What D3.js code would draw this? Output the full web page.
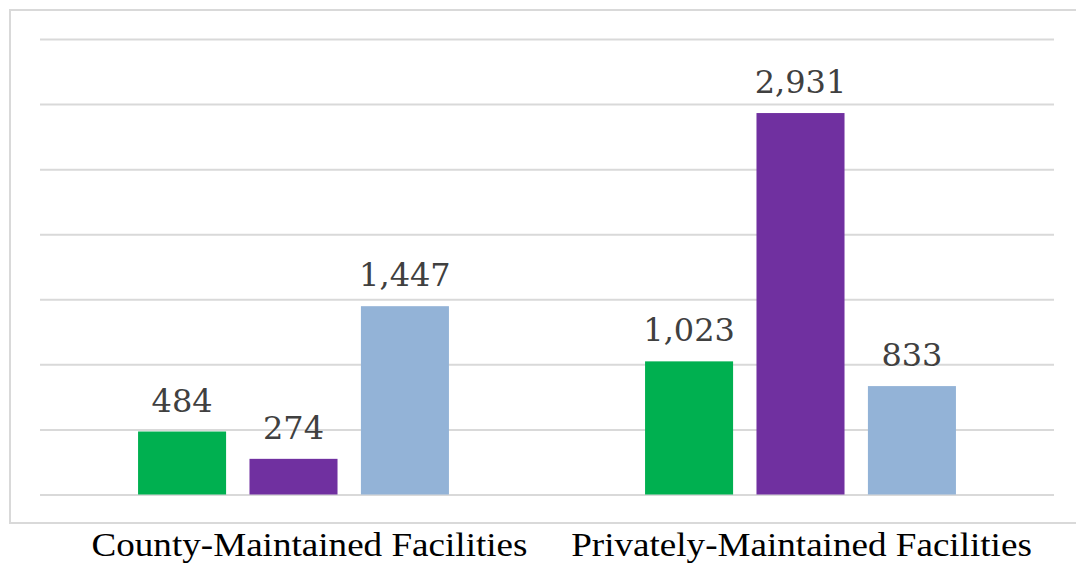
<!DOCTYPE html>
<html>
<head>
<meta charset="utf-8">
<script src="https://cdn.jsdelivr.net/npm/d3@7"></script>
<style>
  html, body { margin: 0; padding: 0; background: #ffffff; }
  svg { display: block; }
</style>
</head>
<body>
<svg id="chart" width="1076" height="567"></svg>
<script>
// Facility counts per category, three series each
const categories = ["County-Maintained Facilities", "Privately-Maintained Facilities"];
const seriesKeys = ["s1", "s2", "s3"];
const seriesColors = ["#00B050", "#7030A0", "#93B3D7"];
const valuesS1 = [484, 1023];
const valuesS2 = [274, 2931];
const valuesS3 = [1447, 833];
const yTicks = [0, 500, 1000, 1500, 2000, 2500, 3000, 3500];

const seriesValues = [valuesS1, valuesS2, valuesS3];
const rows = categories.map((c, i) => ({
  category: c,
  bars: seriesKeys.map((k, j) => ({ key: k, value: seriesValues[j][i], color: seriesColors[j] }))
}));

const W = 1076, H = 567;
const plot = { left: 40, right: 1054, top: 39, bottom: 494.5 };
// horizontal nudge of each category caption
const captionShift = { "County-Maintained Facilities": 16, "Privately-Maintained Facilities": 1 };

const svg = d3.select("#chart");

// Outer chart frame
svg.append("rect")
  .attr("x", 10).attr("y", 10)
  .attr("width", W + 20).attr("height", 513)
  .attr("fill", "#ffffff")
  .attr("stroke", "#d9d9d9")
  .attr("stroke-width", 2);

const x0 = d3.scaleBand()
  .domain(categories)
  .range([plot.left, plot.right])
  .paddingInner(0).paddingOuter(0);

const x1 = d3.scaleBand()
  .domain(seriesKeys)
  .range([0, x0.bandwidth()])
  .paddingInner(0.21)
  .paddingOuter(0.88);

const y = d3.scaleLinear()
  .domain([0, 3500])
  .range([plot.bottom, plot.top]);

// Horizontal gridlines
const grid = svg.append("g")
  .attr("transform", `translate(${plot.left},0)`)
  .call(d3.axisLeft(y).tickValues(yTicks).tickSize(-(plot.right - plot.left)).tickFormat(""));
grid.select(".domain").remove();
grid.selectAll(".tick line")
  .attr("stroke", "#d9d9d9")
  .attr("stroke-width", 2);

// Bars
const groups = svg.append("g").selectAll("g")
  .data(rows)
  .join("g")
  .attr("transform", d => `translate(${x0(d.category)},0)`);

groups.selectAll("rect")
  .data(d => d.bars)
  .join("rect")
  .attr("x", d => x1(d.key))
  .attr("width", x1.bandwidth())
  .attr("y", d => y(d.value))
  .attr("height", d => y(0) - y(d.value))
  .attr("fill", d => d.color);

// Value labels above bars
const fmt = d3.format(",");
groups.selectAll("text")
  .data(d => d.bars)
  .join("text")
  .attr("x", d => x1(d.key) + x1.bandwidth() / 2)
  .attr("y", d => y(d.value) - 20)
  .attr("text-anchor", "middle")
  .attr("font-family", "'DejaVu Serif', serif")
  .attr("font-size", 32)
  .attr("fill", "#404040")
  .text(d => fmt(d.value));

// Category labels (wide serif face)
const catLabels = svg.append("g").selectAll("g")
  .data(categories)
  .join("g")
  .attr("transform", d => `translate(${x0(d) + x0.bandwidth() / 2 + captionShift[d]},556) scale(1.125,1)`);

catLabels.append("text")
  .attr("text-anchor", "middle")
  .attr("font-family", "'Liberation Serif', 'Times New Roman', serif")
  .attr("font-size", 33)
  .attr("fill", "#000000")
  .text(d => d);
</script>
</body>
</html>
